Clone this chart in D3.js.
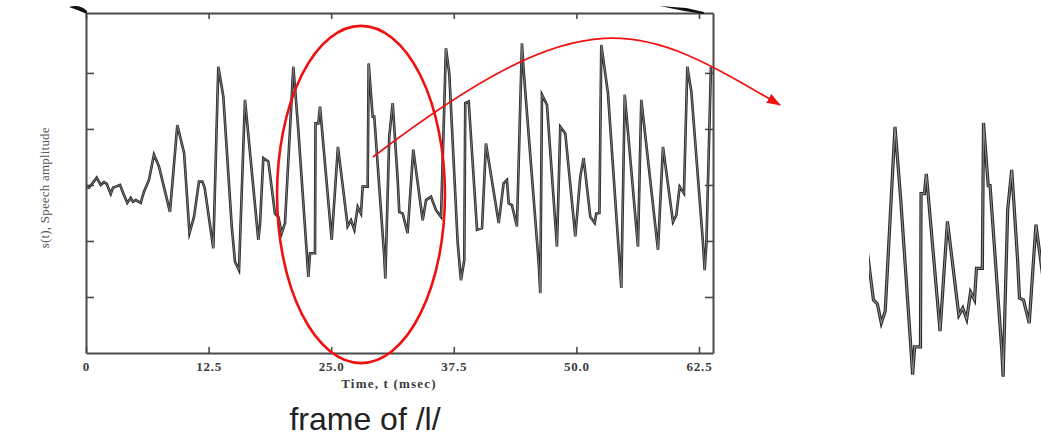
<!DOCTYPE html>
<html>
<head>
<meta charset="utf-8">
<script src="https://cdn.jsdelivr.net/npm/d3@7"></script>
<style>
  html, body { margin: 0; padding: 0; background: #ffffff; }
  svg { display: block; }
</style>
</head>
<body>
<svg id="chart" width="1041" height="438"></svg>
<script>
// Speech waveform s(t) of a voiced /l/ frame: vertices of the trace (time in msec, amplitude in tick units)
const timeMs = [
  0.00, 0.31, 1.09, 1.50, 1.84, 2.11, 2.52, 2.75, 3.03, 3.47,
  3.87, 4.21, 4.56, 4.79, 5.07, 5.58, 5.91, 6.42, 6.93, 7.44,
  8.56, 9.31, 10.00, 10.55, 11.01, 11.52, 11.86, 12.10, 12.98, 13.49,
  14.00, 14.86, 15.19, 15.60, 16.21, 17.57, 17.74, 18.08, 18.59, 19.27,
  19.61, 19.95, 20.29, 21.14, 21.65, 22.50, 22.67, 22.84, 23.35, 23.40,
  23.69, 23.86, 25.05, 25.69, 26.68, 27.02, 27.36, 27.70, 28.04, 28.21,
  28.72, 28.82, 29.23, 29.39, 30.41, 30.52, 30.92, 31.27, 31.78, 31.94,
  32.29, 32.79, 33.37, 34.33, 34.67, 35.18, 35.69, 36.20, 36.70, 37.04,
  37.90, 38.23, 38.57, 38.67, 39.02, 39.87, 40.38, 40.78, 42.08, 42.58,
  42.92, 43.10, 43.43, 43.94, 44.45, 44.62, 46.16, 46.32, 46.49, 47.00,
  48.02, 48.36, 48.87, 49.89, 50.40, 50.74, 51.42, 51.87, 52.03, 52.35,
  52.54, 53.22, 54.58, 54.93, 56.28, 56.62, 57.30, 58.32, 58.83, 59.85,
  60.19, 60.53, 60.97, 61.31, 61.72, 62.91, 63.08, 63.26, 63.72
];
const amplitude = [
  -0.03, -0.05, 0.13, 0.00, 0.05, 0.02, -0.16, -0.05, -0.03, 0.00,
  -0.18, -0.32, -0.23, -0.30, -0.27, -0.32, -0.12, 0.09, 0.54, 0.33,
  -0.48, 1.07, 0.57, -0.86, -0.57, 0.06, 0.06, -0.05, -1.13, 2.11,
  1.58, -0.74, -1.37, -1.52, 1.52, -0.98, -0.71, 0.48, 0.42, -0.51,
  -0.57, -0.86, -0.68, 2.11, 0.98, -1.19, -1.64, -1.22, -1.22, 1.10,
  1.10, 1.40, -0.98, 0.68, -0.74, -0.63, -0.80, -0.39, -0.51, -0.03,
  -0.03, 2.17, 1.22, 1.22, -1.28, -1.67, 0.86, 1.46, 0.09, -0.48,
  -0.51, -0.86, 0.63, -0.63, -0.27, -0.21, -0.45, -0.57, 2.44, 1.99,
  -1.04, -1.70, -1.34, 1.46, 1.49, -0.80, -0.77, 0.74, -0.68, 0.03,
  0.09, -0.33, -0.36, -0.74, 2.53, 2.05, -1.40, -1.93, 1.61, 1.43,
  -1.10, 1.04, 0.92, -0.92, 0.15, 0.48, -0.57, -0.68, -0.51, -0.50,
  2.50, 1.64, -1.84, 1.61, -1.10, 1.52, 0.45, -1.16, 0.68, -0.66,
  -0.54, -0.03, -0.15, 2.11, 1.67, -1.04, -1.52, -1.04, 2.11
];

// Axis ticks and labels
const xTicks = [0, 12.5, 25.0, 37.5, 50.0, 62.5];
const xTickLabels = ["0", "12.5", "25.0", "37.5", "50.0", "62.5"];
const yTicks = [-2, -1, 0, 1, 2];
const xTitle = "Time, t (msec)";
const yTitle = "s(t), Speech amplitude";
const caption = "frame of /l/";

// Time window shown magnified on the right (msec)
const zoomWindow = [18.97, 33.81];
// Highlighted region: centre (msec, amplitude) and half-extents
const focusCentre = [28.04, -0.17];
const focusHalf = [8.56, 3.01];

const data = timeMs.map((t, i) => ({ t, a: amplitude[i] }));
const svg = d3.select("#chart");

const x = d3.scaleLinear().domain([0, 63.93]).range([86, 713]);
const y = d3.scaleLinear().domain([-3, 3.07]).range([353, 13]);

const red = "#f01010";
const defs = svg.append("defs");
defs.append("filter").attr("id", "soft")
  .append("feGaussianBlur").attr("stdDeviation", 0.45);
defs.append("marker")
  .attr("id", "head").attr("markerUnits", "userSpaceOnUse")
  .attr("viewBox", "0 0 14 10").attr("markerWidth", 14).attr("markerHeight", 10)
  .attr("refX", 13).attr("refY", 5).attr("orient", "auto")
  .append("path").attr("d", "M0,0 L14,5 L0,10 Z").attr("fill", red);
defs.append("clipPath").attr("id", "zoomClip")
  .append("rect").attr("x", 869).attr("y", 80).attr("width", 172).attr("height", 330);

const axisColor = "#4a4a4a";
function styleAxis(g) {
  g.selectAll("path.domain").attr("stroke", axisColor).attr("stroke-width", 2);
  g.selectAll(".tick line").attr("stroke", axisColor).attr("stroke-width", 1.6);
}

// Frame with inward ticks on all four sides
const gB = svg.append("g").attr("transform", `translate(0,${y(-3)})`)
  .call(d3.axisBottom(x).tickValues(xTicks).tickSize(-6).tickSizeOuter(0).tickPadding(9)
    .tickFormat((d, i) => xTickLabels[i]));
styleAxis(gB);
gB.selectAll(".tick text")
  .attr("font-family", "'Liberation Serif', 'DejaVu Serif', serif")
  .attr("font-size", 13).attr("font-weight", "bold").attr("fill", "#3a3a3a")
  .attr("letter-spacing", 0.8);

const gT = svg.append("g").attr("transform", `translate(0,${y(3.07)})`)
  .call(d3.axisTop(x).tickValues(xTicks).tickSize(-6).tickSizeOuter(0).tickFormat(""));
styleAxis(gT);

const gL = svg.append("g").attr("transform", `translate(${x(0)},0)`)
  .call(d3.axisLeft(y).tickValues(yTicks).tickSize(-8).tickSizeOuter(0).tickFormat(""));
styleAxis(gL);

const gR = svg.append("g").attr("transform", `translate(${x(63.93)},0)`)
  .call(d3.axisRight(y).tickValues(yTicks).tickSize(-8).tickSizeOuter(0).tickFormat(""));
styleAxis(gR);

// Ink smudges at the upper corners of the printed frame
const frameTop = y(3.07), frameLeft = x(0);
svg.append("path")
  .attr("d", `M${frameLeft - 17},${frameTop - 6} Q${frameLeft - 6},${frameTop - 9} ${frameLeft + 1},${frameTop - 2} L${frameLeft + 1},${frameTop + 1} Q${frameLeft - 8},${frameTop - 3} ${frameLeft - 17},${frameTop - 6} Z`)
  .attr("fill", "#111");
svg.append("path")
  .attr("d", `M${x(58.5)},${frameTop - 7} L${x(61.2)},${frameTop - 5} L${x(63.0)},${frameTop - 1} L${x(63.0)},${frameTop + 1} L${x(61.0)},${frameTop - 2} Z`)
  .attr("fill", "#111");

// Axis titles
svg.append("text")
  .attr("x", 389).attr("y", 388).attr("text-anchor", "middle")
  .attr("font-family", "'Liberation Serif', 'DejaVu Serif', serif")
  .attr("font-size", 13).attr("font-weight", "bold").attr("fill", "#3a3a3a")
  .attr("letter-spacing", 1.2)
  .text(xTitle);
svg.append("text")
  .attr("transform", `translate(49,${y(-0.05)}) rotate(-90)`)
  .attr("text-anchor", "middle")
  .attr("font-family", "'Liberation Serif', 'DejaVu Serif', serif")
  .attr("font-size", 13).attr("fill", "#555")
  .attr("letter-spacing", 0.2)
  .text(yTitle);

// Caption under the chart
svg.append("text")
  .attr("x", 365).attr("y", 430).attr("text-anchor", "middle")
  .attr("font-family", "'Liberation Sans Narrow', 'Arial Narrow', 'Liberation Sans', sans-serif")
  .attr("font-size", 32).attr("fill", "#222")
  .text(caption);

// Main waveform trace
const line = d3.line().x(d => x(d.t)).y(d => y(d.a));
const trace = svg.append("g").attr("filter", "url(#soft)");
trace.append("path").datum(data).attr("d", line)
  .attr("fill", "none").attr("stroke", "#262626").attr("stroke-width", 2.6)
  .attr("stroke-linejoin", "miter").attr("stroke-miterlimit", 6);
trace.append("path").datum(data).attr("d", line)
  .attr("fill", "none").attr("stroke", "#8c8c8c").attr("stroke-width", 0.8)
  .attr("stroke-linejoin", "miter").attr("stroke-miterlimit", 6);

// Magnified view of the highlighted window
const xz = d3.scaleLinear().domain(zoomWindow).range([870, 1041]);
const yz = d3.scaleLinear().domain([-3, 3]).range([464.5, 68.1]);
const lineZ = d3.line().x(d => xz(d.t)).y(d => yz(d.a));
const zoomG = svg.append("g").attr("clip-path", "url(#zoomClip)")
  .append("g").attr("filter", "url(#soft)");
zoomG.append("path").datum(data).attr("d", lineZ)
  .attr("fill", "none").attr("stroke", "#2a2a2a").attr("stroke-width", 3.2)
  .attr("stroke-linejoin", "miter").attr("stroke-miterlimit", 6);
zoomG.append("path").datum(data).attr("d", lineZ)
  .attr("fill", "none").attr("stroke", "#8a8a8a").attr("stroke-width", 1.1)
  .attr("stroke-linejoin", "miter").attr("stroke-miterlimit", 6);

// Red ellipse around the analysis frame
const cx = x(focusCentre[0]), cy = y(focusCentre[1]);
svg.append("ellipse")
  .attr("cx", cx).attr("cy", cy)
  .attr("rx", x(focusCentre[0] + focusHalf[0]) - cx)
  .attr("ry", y(focusCentre[1] - focusHalf[1]) - cy)
  .attr("fill", "none").attr("stroke", red).attr("stroke-width", 2.6);

// Curved arrow from the frame to the magnified view
const sx = x(29.26), sy = y(0.5);
svg.append("path")
  .attr("d", `M${sx},${sy} C590,-8 640,23 780,105`)
  .attr("fill", "none").attr("stroke", red).attr("stroke-width", 1.7)
  .attr("marker-end", "url(#head)");
</script>
</body>
</html>
